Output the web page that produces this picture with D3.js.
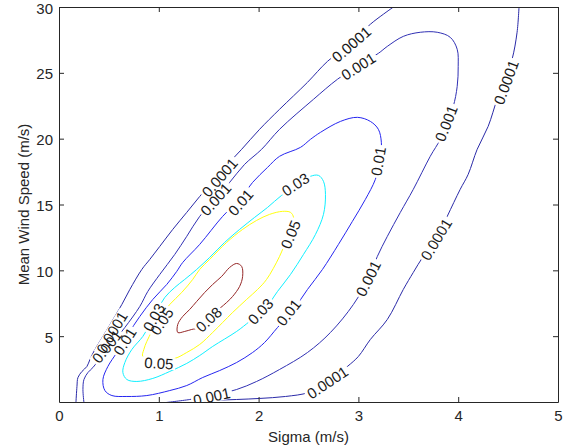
<!DOCTYPE html>
<html>
<head>
<meta charset="utf-8">
<script src="https://cdn.jsdelivr.net/npm/d3@7"></script>
<style>
  body { margin: 0; background: #fff; }
  text { font-family: "Liberation Sans", Arial, sans-serif; }
</style>
</head>
<body>
<svg id="chart" width="573" height="448"></svg>
<script>
// tick values
const sigmaTicks = [0, 1, 2, 3, 4, 5];
const meanTicks = [5, 10, 15, 20, 25, 30];

// contour levels
const levels = [0.0001, 0.001, 0.01, 0.03, 0.05, 0.08];

// contour lines, [sigma, mean]
const c0001Left = [[0.17,0],[0.18,1.18],[0.19,1.86],[0.23,2.32],[0.28,2.7],[0.31,3.23],[0.36,3.99],[0.44,4.98],[0.53,6.12],[0.63,7.41],[0.71,8.55],[0.83,10.07],[0.91,10.83],[1.01,11.82],[1.14,13.11],[1.28,14.4],[1.41,15.61],[1.54,16.76],[1.68,17.97],[1.83,19.19],[2.01,20.71],[2.21,22.23],[2.49,24.28],[2.69,25.87],[2.92,27.24],[3.12,28.69],[3.25,29.45],[3.37,30.1]];
const c0001Right = [[4.61,30.1],[4.59,28.08],[4.54,26.03],[4.47,24.51],[4.39,22.99],[4.3,20.93],[4.19,19.19],[4.1,17.29],[4.02,16.15],[3.89,14.1],[3.78,12.35],[3.65,11.06],[3.55,9.84],[3.45,8.55],[3.29,6.27],[3.12,4.75],[3.0,3.46],[2.89,2.7],[2.69,1.48],[2.5,0.72],[2.27,0.42],[2.01,0.27],[1.78,0.19],[1.51,0.11],[1.31,-0.05]];
const c001 = [[0.25,-0.05],[0.24,0.95],[0.25,1.71],[0.29,2.24],[0.34,2.62],[0.44,3.61],[0.54,4.52],[0.66,5.66],[0.81,7.26],[0.89,8.4],[1.01,9.69],[1.16,11.21],[1.28,12.58],[1.41,14.1],[1.56,15.39],[1.71,16.68],[1.86,18.05],[2.03,19.19],[2.21,20.71],[2.55,22.99],[2.79,24.51],[3.0,25.57],[3.2,26.48],[3.29,27.01],[3.45,27.77],[3.62,28.08],[3.79,28.08],[3.92,27.7],[3.99,26.79],[4.0,25.49],[3.99,23.97],[3.95,22.45],[3.88,21.16],[3.82,19.95],[3.72,18.66],[3.55,16.15],[3.42,14.4],[3.29,12.58],[3.19,11.06],[3.1,9.38],[2.95,7.41],[2.72,5.28],[2.49,3.76],[2.21,2.47],[1.98,1.56],[1.78,0.95],[1.53,0.49],[1.31,0.19],[1.06,-0.05]];
const c01 = [[0.94,7.79],[1.08,8.93],[1.18,9.92],[1.24,10.6],[1.41,11.97],[1.64,14.1],[1.81,15.39],[1.94,16.68],[2.09,17.82],[2.21,18.66],[2.42,19.34],[2.52,19.95],[2.62,20.48],[2.82,21.31],[2.99,21.62],[3.12,21.31],[3.2,20.71],[3.23,19.72],[3.22,18.43],[3.17,16.91],[3.07,15.39],[2.94,13.72],[2.8,11.97],[2.64,10.07],[2.49,8.55],[2.35,7.03],[2.19,5.66],[2.06,4.52],[1.94,3.76],[1.78,3.0],[1.61,2.39],[1.44,1.86],[1.28,1.25],[1.11,0.87],[0.88,0.49],[0.68,0.42],[0.53,0.49],[0.46,0.87],[0.44,1.71],[0.49,2.7],[0.58,3.76],[0.69,5.13],[0.81,6.5]];
const c03 = [[1.06,7.94],[1.16,8.7],[1.26,9.31],[1.38,10.07],[1.51,10.98],[1.66,12.12],[1.81,13.11],[1.96,14.02],[2.09,14.78],[2.23,15.69],[2.38,16.45],[2.52,17.14],[2.6,17.21],[2.65,16.76],[2.67,15.77],[2.65,14.25],[2.57,12.73],[2.45,11.21],[2.32,9.69],[2.19,8.4],[2.06,7.03],[1.91,6.12],[1.78,5.36],[1.54,4.22],[1.41,3.53],[1.28,2.93],[1.11,2.32],[0.94,1.79],[0.78,1.56],[0.68,1.71],[0.64,2.24],[0.66,3.0],[0.73,3.99],[0.84,4.98],[0.91,5.89],[0.99,7.03]];
const c05 = [[0.84,3.46],[1.0,3.23],[1.16,3.31],[1.28,3.76],[1.41,4.37],[1.54,5.28],[1.64,6.04],[1.74,6.8],[1.88,7.79],[1.99,8.55],[2.08,9.31],[2.21,11.06],[2.28,12.35],[2.33,13.26],[2.35,14.02],[2.32,14.4],[2.24,14.48],[2.11,14.25],[1.98,13.79],[1.84,13.11],[1.68,12.12],[1.51,10.83],[1.41,10.07],[1.34,9.31],[1.23,8.32],[1.11,7.41],[1.01,6.42],[0.93,5.36],[0.88,4.6],[0.85,3.99]];
const c08 = [[1.19,5.28],[1.19,5.89],[1.24,6.5],[1.31,7.03],[1.38,7.64],[1.46,8.32],[1.54,8.93],[1.63,9.54],[1.71,10.22],[1.78,10.52],[1.83,10.3],[1.84,9.54],[1.81,8.78],[1.74,8.02],[1.68,7.56],[1.54,6.65],[1.41,5.66],[1.33,5.51],[1.26,5.36]];

// contour label spots, [level, sigma, mean]
const labelSpots = [
  [0.0001, 0.53, 5.28], [0.001, 0.48, 4.22], [0.01, 0.66, 4.6],
  [0.03, 0.95, 6.42], [0.05, 1.03, 6.12], [0.05, 1.0, 2.95],
  [0.08, 1.5, 6.27], [0.03, 2.02, 6.88], [0.01, 2.3, 6.8],
  [0.001, 1.53, 0.42], [0.0001, 2.69, 1.48], [0.001, 3.1, 9.38],
  [0.0001, 3.78, 12.35], [0.01, 3.2, 18.28], [0.001, 3.88, 21.16],
  [0.0001, 4.48, 24.28], [0.0001, 2.93, 27.17], [0.001, 3.0, 25.49],
  [0.03, 2.37, 16.53], [0.05, 2.32, 12.73], [0.01, 1.82, 15.16],
  [0.001, 1.57, 15.39], [0.0001, 1.61, 17.06]
];

const lines = [
  { level: 0.0001, pts: c0001Left, closed: false },
  { level: 0.0001, pts: c0001Right, closed: false },
  { level: 0.001, pts: c001, closed: false },
  { level: 0.01, pts: c01, closed: true },
  { level: 0.03, pts: c03, closed: true },
  { level: 0.05, pts: c05, closed: true },
  { level: 0.08, pts: c08, closed: true }
];

// jet-ish colours per level, a bit softened like the antialiased original
const color = d3.scaleOrdinal()
  .domain(levels)
  .range(["#2a2aa8", "#3030b4", "#2626f0", "#10f0ff", "#ffff10", "#962828"]);

const svg = d3.select("#chart");
const xScale = d3.scaleLinear().domain([0, 5]).range([59, 558]);
const yScale = d3.scaleLinear().domain([0, 30]).range([402, 7]);

svg.append("defs").append("clipPath").attr("id", "plot")
  .append("rect")
  .attr("x", xScale(0)).attr("y", yScale(30))
  .attr("width", xScale(5) - xScale(0)).attr("height", yScale(0) - yScale(30));

const plot = svg.append("g").attr("clip-path", "url(#plot)");

const lineOpen = d3.line().x(d => xScale(d[0])).y(d => yScale(d[1])).curve(d3.curveCatmullRom);
const lineClosed = d3.line().x(d => xScale(d[0])).y(d => yScale(d[1])).curve(d3.curveCatmullRomClosed);

plot.selectAll(".contour")
  .data(lines)
  .enter()
  .append("path")
  .attr("class", "contour")
  .attr("fill", "none")
  .attr("stroke", d => color(d.level))
  .attr("stroke-width", 1)
  .attr("d", d => (d.closed ? lineClosed : lineOpen)(d.pts));

// angle of the label from its own contour, in screen space
function labelAngle(spot) {
  const px = xScale(spot[1]), py = yScale(spot[2]);
  let best = null, bestDist = Infinity;
  lines.filter(l => l.level === spot[0]).forEach(l => {
    const p = l.pts.map(q => [xScale(q[0]), yScale(q[1])]);
    p.forEach((q, i) => {
      const dd = (q[0] - px) ** 2 + (q[1] - py) ** 2;
      if (dd < bestDist) {
        bestDist = dd;
        const a = p[Math.max(0, i - 1)];
        const b = p[Math.min(p.length - 1, i + 1)];
        best = Math.atan2(b[1] - a[1], b[0] - a[0]) * 180 / Math.PI;
      }
    });
  });
  if (best > 90) best -= 180;
  if (best < -90) best += 180;
  return best;
}

const bgLayer = plot.append("g");
const txtLayer = plot.append("g");

labelSpots.forEach(spot => {
  const ang = labelAngle(spot);
  const tr = `translate(${xScale(spot[1])},${yScale(spot[2])}) rotate(${ang})`;
  const t = txtLayer.append("text")
    .attr("transform", tr)
    .attr("text-anchor", "middle")
    .attr("dy", "0.36em")
    .attr("font-size", 15)
    .attr("fill", "#1a1a1a")
    .text(String(spot[0]));
  const w = t.node().getComputedTextLength();
  bgLayer.append("rect")
    .attr("transform", tr)
    .attr("x", -w / 2 - 2).attr("y", -6)
    .attr("width", w + 4).attr("height", 12)
    .attr("fill", "#fff");
});

// axes, ticks pointing inward on all four sides
const axisColor = "#262626";
const xAxis = svg.append("g").attr("transform", `translate(0,${yScale(0)})`)
  .call(d3.axisBottom(xScale).tickValues(sigmaTicks).tickSizeInner(-5).tickSizeOuter(0).tickPadding(8).tickFormat(d3.format("d")));
const xTop = svg.append("g").attr("transform", `translate(0,${yScale(30)})`)
  .call(d3.axisTop(xScale).tickValues(sigmaTicks).tickSizeInner(-5).tickSizeOuter(0).tickFormat(""));
const yAxis = svg.append("g").attr("transform", `translate(${xScale(0)},0)`)
  .call(d3.axisLeft(yScale).tickValues(meanTicks).tickSizeInner(-5).tickSizeOuter(0).tickPadding(6).tickFormat(d3.format("d")));
const yRight = svg.append("g").attr("transform", `translate(${xScale(5)},0)`)
  .call(d3.axisRight(yScale).tickValues(meanTicks).tickSizeInner(-5).tickSizeOuter(0).tickFormat(""));

[xAxis, xTop, yAxis, yRight].forEach(g => {
  g.selectAll("path, line").attr("stroke", axisColor);
  g.selectAll("text").attr("font-size", 15).attr("fill", "#262626")
    .attr("font-family", '"Liberation Sans", Arial, sans-serif');
});
yAxis.selectAll("text").attr("dy", "0.4em");

svg.append("text")
  .attr("x", (xScale(0) + xScale(5)) / 2)
  .attr("y", 442)
  .attr("text-anchor", "middle")
  .attr("font-size", 15)
  .attr("fill", "#262626")
  .text("Sigma (m/s)");

svg.append("text")
  .attr("transform", `translate(29,${(yScale(0) + yScale(30)) / 2}) rotate(-90)`)
  .attr("text-anchor", "middle")
  .attr("font-size", 15)
  .attr("fill", "#262626")
  .text("Mean Wind Speed (m/s)");
</script>
</body>
</html>
